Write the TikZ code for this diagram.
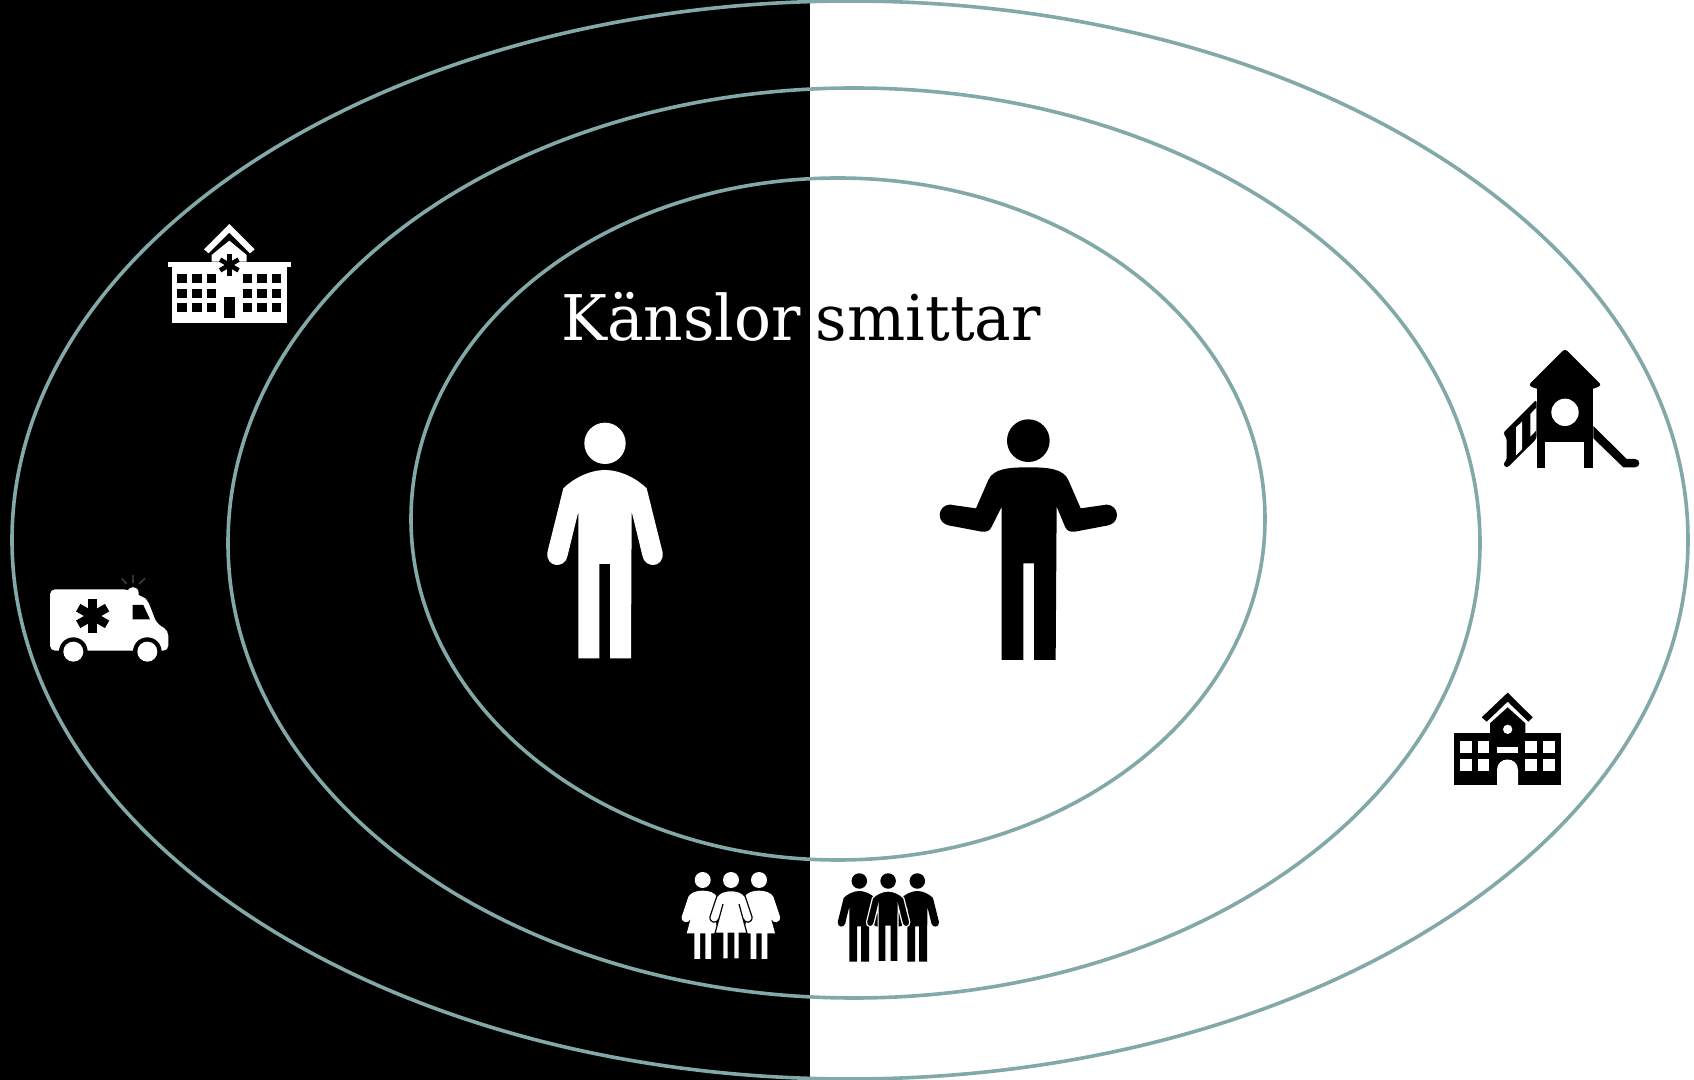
\documentclass[tikz,border=0pt]{standalone}
\usepackage{amsmath}
\usepackage{fontspec}
\newfontfamily\slabfont[FakeStretch=0.975]{DejaVu Serif}
\definecolor{ringteal}{HTML}{82A8A8}
\newcommand{\starcross}[4]{
    \foreach \ang in {0,60,120} {
        \begin{scope}[shift={(#1,#2)},rotate=\ang]
            \fill[black] (-#4,-#3) rectangle (#4,#3);
        \end{scope}
    }
}
\newcommand{\manfigure}[2]{
    \fill[#1] (225,100) circle (62);
    \path[fill=#1,#2] (100,235) .. controls (130,205) and (180,180) .. (225,180)
        .. controls (270,180) and (320,205) .. (350,235) -- (398,428)
        .. controls (402,475) and (345,475) .. (338,440) -- (305,305) -- (303,745) -- (240,745)
        -- (240,462) -- (208,462) -- (208,745) -- (145,745) -- (145,305) -- (112,440)
        .. controls (105,475) and (48,475) .. (52,428) -- cycle;
}
\newcommand{\womanfigure}[1]{
    \fill[white] (0,60) circle (24);
    \path[fill=white,draw=black,#1] (0,92) .. controls (-20,92) and (-35,98) .. (-43,110)
        -- (-63,170) .. controls (-65,190) and (-42,192) .. (-36,176) -- (-24,132) -- (-48,220)
        -- (-25,220) -- (-25,297) -- (-8,297) -- (-8,220) -- (8,220) -- (8,297) -- (25,297)
        -- (25,220) -- (48,220) -- (24,132) -- (36,176)
        .. controls (42,192) and (65,190) .. (63,170) -- (43,110)
        .. controls (35,98) and (20,92) .. (0,92) -- cycle;
}
\begin{document}
\begin{tikzpicture}[x=0.5pt,y=-0.5pt,
    ring/.style={draw=ringteal,line width=1.8pt},
    title/.style={font=\slabfont\fontsize{31.5}{38}\selectfont,anchor=base}]
    \useasboundingbox (0,0) rectangle (1694,1080);
    \fill[white] (0,0) rectangle (1694,1080);
    \fill[black] (0,0) rectangle (810,1080);
    \draw[ring] (850,540) ellipse [x radius=838,y radius=539];
    \draw[ring] (854,543) ellipse [x radius=626,y radius=455];
    \draw[ring] (838,519) ellipse [x radius=427,y radius=341];
    % standing and shrugging figures
    \begin{scope}[shift={(530,410)},scale=1/3]
        \manfigure{white}{draw=none}
    \end{scope}
    \begin{scope}[shift={(930,410)},scale=1/3]
        \fill[black] (295,92) circle (64);
        \fill[black] (175,210) .. controls (190,175) and (240,172) .. (295,172)
            .. controls (350,172) and (400,175) .. (415,210) -- (452,295) -- (530,284)
            -- (535,346) -- (435,365) .. controls (420,367) and (410,362) .. (405,350)
            -- (380,290) -- (377,750) -- (312,750) -- (312,460) -- (280,460) -- (280,750)
            -- (215,750) -- (215,290) -- (185,350) .. controls (180,362) and (170,367) .. (155,365)
            -- (55,346) -- (60,284) -- (138,295) -- cycle;
        \fill[black] (60,315) circle (31);
        \fill[black] (530,315) circle (31);
    \end{scope}
    % hospital
    \begin{scope}[shift={(150,210)},scale=1/3]
        \fill[white] (162,118) -- (238,42) -- (314,118) -- (300,130) -- (238,68) -- (176,130) -- cycle;
        \fill[white] (185,155) -- (185,135) -- (238,92) -- (290,135) -- (290,155) -- cycle;
        \fill[white] (55,155) rectangle (422,172);
        \fill[white] (65,172) rectangle (412,340);
        \foreach \wx in {82,127,171,278,322,366} {
            \foreach \wy in {191,236,280} {
                \fill[black] (\wx,\wy) rectangle ++(28,27);
            }
        }
        \fill[black] (221,262) rectangle (255,325);
        \starcross{238}{165}{32}{7}
    \end{scope}
    % ambulance
    \begin{scope}[shift={(30,560)},scale=1/3]
        \draw[black!80,line width=1pt] (308,45) -- (308,68);
        \draw[black!80,line width=1pt] (275,55) -- (290,72);
        \draw[black!80,line width=1pt] (345,55) -- (327,72);
        \fill[white,rounded corners=2.5pt] (60,272) -- (60,88) -- (292,88) -- (340,112) -- (352,118)
            -- (380,190) -- (415,212) -- (415,272) -- cycle;
        \fill[white] (292,100) .. controls (292,75) and (326,75) .. (326,100) -- (326,115) -- (292,115) -- cycle;
        \fill[black] (130,275) circle (43);
        \fill[black] (352,275) circle (43);
        \fill[white] (130,275) circle (30);
        \fill[white] (352,275) circle (30);
        \fill[black] (308,135) -- (340,135) -- (360,178) -- (308,178) -- cycle;
        \starcross{188}{168}{50}{13}
    \end{scope}
    % playground
    \begin{scope}[shift={(1480,340)},scale=1/3]
        \fill[black,rounded corners=1.5pt] (255,26) -- (145,136) -- (170,147) -- (340,147) -- (365,136) -- cycle;
        \fill[black] (170,135) rectangle (340,305);
        \fill[black] (170,300) rectangle (195,385);
        \fill[black] (313,300) rectangle (340,385);
        \fill[black] (340,258) -- (440,357) -- (465,357) .. controls (482,357) and (482,382) .. (465,382)
            -- (430,382) -- (340,295) -- cycle;
        \fill[black,rounded corners=1.5pt] (170,178) -- (68,280) -- (80,292) -- (80,362) -- (68,372)
            -- (80,385) -- (170,296) -- cycle;
        \fill[white] (108,262) -- (126,245) -- (126,328) -- (108,346) -- cycle;
        \fill[white] (151,222) -- (168,204) -- (168,272) -- (151,290) -- cycle;
        \fill[white] (255,217) circle (41);
    \end{scope}
    % school
    \begin{scope}[shift={(1440,680)},scale=1/3]
        \fill[black] (125,112) -- (203,38) -- (278,112) -- (265,125) -- (203,65) -- (140,125) -- cycle;
        \fill[black] (150,165) -- (150,130) -- (203,82) -- (256,130) -- (256,165) -- cycle;
        \fill[black] (42,160) rectangle (362,315);
        \foreach \wx in {60,113,256,309} {
            \foreach \wy in {184,237} {
                \fill[white] (\wx,\wy) rectangle ++(35,35);
            }
        }
        \fill[white] (203,148) circle (14);
        \fill[white] (171,202) rectangle (234,218);
        \fill[white] (171,315) -- (171,270) .. controls (171,228) and (234,228) .. (234,270) -- (234,315) -- cycle;
    \end{scope}
    % groups
    \begin{scope}[shift={(702.7,860)},scale=1/3]
        \womanfigure{draw=none}
    \end{scope}
    \begin{scope}[shift={(759,860)},scale=1/3]
        \womanfigure{draw=none}
    \end{scope}
    \begin{scope}[shift={(731,860)},scale=1/3]
        \womanfigure{line width=0.6pt}
    \end{scope}
    \begin{scope}[shift={(831.2,868.5)},scale=0.125]
        \manfigure{black}{draw=none}
    \end{scope}
    \begin{scope}[shift={(889.2,868.5)},scale=0.125]
        \manfigure{black}{draw=none}
    \end{scope}
    \begin{scope}[shift={(860,868.5)},scale=0.125]
        \manfigure{black}{draw=white,line width=0.6pt}
    \end{scope}
    \node[title] (headline) at (801,340.6) {\spaceskip=7.5pt\textcolor{white}{Känslor} \textcolor{black}{smittar}};
\end{tikzpicture}
\end{document}
